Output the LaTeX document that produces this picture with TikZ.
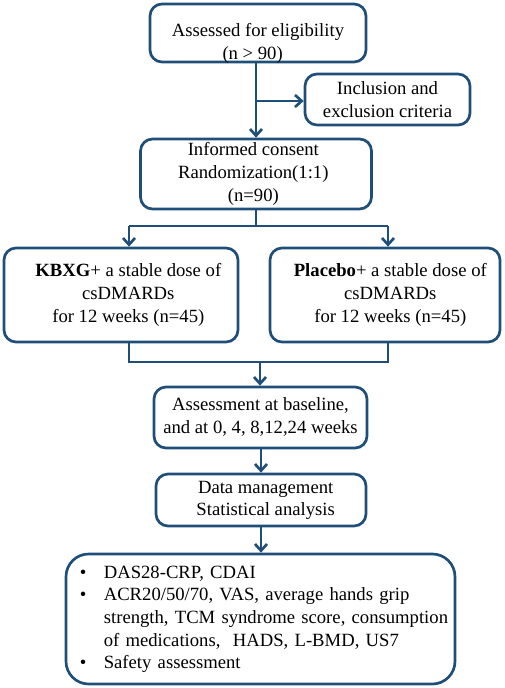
\documentclass[tikz,border=0pt]{standalone}
\usepackage{fontspec}
\setmainfont{Liberation Serif}
\usetikzlibrary{arrows.meta}
\definecolor{flowblue}{RGB}{31,78,121}
\begin{document}
\begin{tikzpicture}[x=0.75pt,y=-0.75pt,
  box/.style={draw=flowblue, line width=2pt, rounded corners=9pt, fill=white,
    inner sep=0pt, align=center, font=\fontsize{14}{17}\selectfont},
  bigbox/.style={box, rounded corners=17pt},
  conn/.style={draw=flowblue, line width=2pt},
  arr/.style={conn, -{Straight Barb[length=5pt,width=9pt]}}]
\useasboundingbox (0,0) rectangle (505,688);
\node[box, minimum width=162pt, minimum height=43.5pt, text depth=0pt] (elig) at (258,33)
  {\raisebox{-2pt}{\begin{tabular}{@{}c@{}}Assessed for eligibility\\\hspace*{-8pt}(n \textgreater{} 90)\end{tabular}}};
\node[box, minimum width=123.75pt, minimum height=38.25pt] (crit) at (387.5,99.5)
  {Inclusion and\\exclusion criteria};
\node[box, minimum width=173.25pt, minimum height=52.5pt] (rand) at (256,174)
  {\raisebox{-1.5pt}{\begin{tabular}{@{}c@{\hspace{4pt}}}Informed consent\\Randomization(1:1)\\(n=90)\end{tabular}}};
\node[box, minimum width=175.5pt, minimum height=70.5pt] (kbxg) at (121,295)
  {\begin{tabular}{@{\hspace{11pt}}c@{}}\textbf{KBXG}+ a stable dose of\\csDMARDs\\for 12 weeks (n=45)\end{tabular}};
\node[box, minimum width=172.5pt, minimum height=70.5pt] (plac) at (385,295)
  {\begin{tabular}{@{\hspace{8pt}}c@{}}\textbf{Placebo}+ a stable dose of\\csDMARDs\\for 12 weeks (n=45)\end{tabular}};
\node[box, minimum width=159.75pt, minimum height=45.75pt] (assess) at (260.5,417.5)
  {\raisebox{-2pt}{\begin{tabular}{@{}c@{}}Assessment at baseline,\\and at 0, 4, 8,12,24 weeks\end{tabular}}};
\node[box, minimum width=157.5pt, minimum height=39pt] (data) at (261,500)
  {\begin{tabular}{@{\hspace{7pt}}c@{}}Data management\\Statistical analysis\end{tabular}};
\node[bigbox, minimum width=291.75pt, minimum height=97.5pt, text width=271pt, align=left] (outc) at (260.5,619)
  {\raisebox{-1pt}{\begin{tabular}{@{}p{18pt}@{}l@{}}
  \textbullet & DAS28-CRP, CDAI\\
  \textbullet & ACR20/50/70, VAS, average hands grip\\
   & strength, TCM syndrome score, consumption\\
   & of medications,\ \ HADS, L-BMD, US7\\
  \textbullet & Safety assessment
  \end{tabular}}};
% connectors
\coordinate (br) at (256,101);
\draw[arr] (rand.north |- elig.south) -- (rand.north);
\draw[arr] (br) -- (br -| crit.west);
\coordinate (split) at (256,226);
\coordinate (sl) at (129,226);
\coordinate (sr) at (388,226);
\draw[conn] (rand.south) -- (split);
\draw[arr] (sl) -- (sl |- kbxg.north);
\draw[arr] (sr) -- (sr |- plac.north);
\draw[conn] (sl) -- (sr);
\coordinate (jl) at (129,362);
\coordinate (jr) at (388,362);
\coordinate (jm) at (260,362);
\draw[conn] (jl |- kbxg.south) -- (jl) -- (jr) -- (jr |- plac.south);
\draw[arr] (jm) -- (jm |- assess.north);
\draw[arr] (assess.south -| data.north) -- (data.north);
\draw[arr] (data.south) -- (outc.north -| data.south);
\end{tikzpicture}
\end{document}
